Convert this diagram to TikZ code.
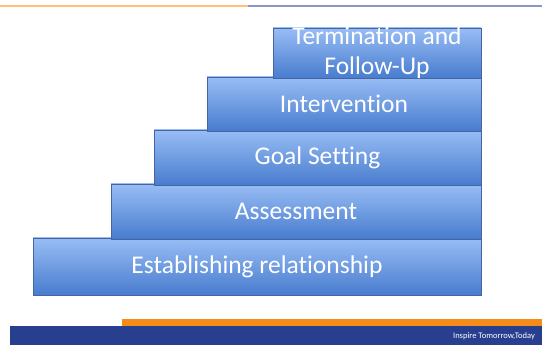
\documentclass[tikz,border=0pt]{standalone}
\usepackage{fontspec}
\setmainfont{Carlito}[Ligatures=NoCommon]
\usetikzlibrary{shadows}

\definecolor{stepTop}{RGB}{152,189,245}
\definecolor{stepBottom}{RGB}{72,124,206}
\definecolor{stepEdge}{RGB}{70,100,160}
\definecolor{lineOrange}{RGB}{255,193,122}
\definecolor{lineBlue}{RGB}{138,150,202}
\definecolor{barOrange}{RGB}{245,140,26}
\definecolor{barBlue}{RGB}{40,62,142}

\begin{document}
\begin{tikzpicture}[x=1pt, y=-1pt,
    stepbox/.style={draw=stepEdge, line width=.6pt, top color=stepTop, bottom color=stepBottom,
        inner sep=0pt, font=\fontsize{25.5}{30}\selectfont, text=white,
        drop shadow={shadow xshift=1pt, shadow yshift=-1.2pt, opacity=.25}}]
    \useasboundingbox (0,0) rectangle (542,345);
    % lines along the top
    \draw[lineOrange, line width=2pt] (0,6) -- (248,6);
    \draw[lineBlue, line width=2pt] (248,6) -- (542,6);
    % the steps, bottom one first
    \node[stepbox, minimum width=448pt, minimum height=57pt] (relation) at (257,266.5) {Establishing relationship};
    \node[stepbox, minimum width=370pt, minimum height=55pt] (assess) at (296,211.5) {Assessment};
    \node[stepbox, minimum width=327pt, minimum height=55pt] (goal) at (317.5,157.5) {Goal Setting};
    \node[stepbox, minimum width=274pt, minimum height=54pt] (interv) at (344,104) {Intervention};
    \node[stepbox, minimum width=208pt, minimum height=50pt] (term) at (377,53) {};
    \node[align=center, text=white, font=\fontsize{25.5}{30}\selectfont] (termtext) at (term.center) {Termination and\\Follow-Up};
    % footer bars
    \fill[barOrange] (122,319) rectangle (542,326);
    \fill[barBlue] (10,326) rectangle (542,345);
    \node[text=white, font=\fontsize{8.5}{10}\selectfont] (motto) at (494,336) {Inspire Tomorrow,Today};
\end{tikzpicture}
\end{document}
